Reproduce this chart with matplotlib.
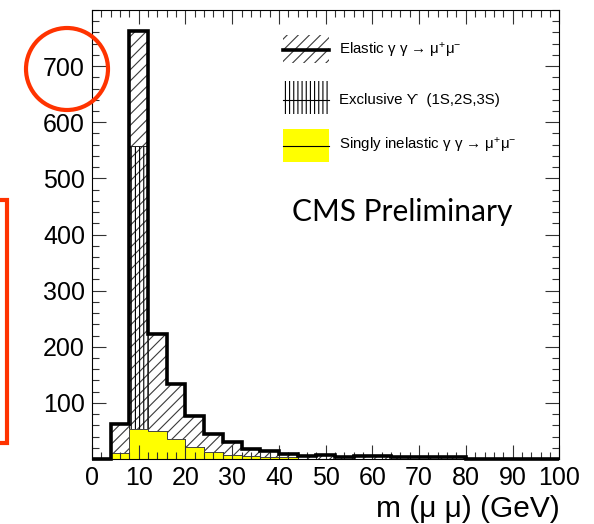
import numpy as np
import matplotlib
matplotlib.use("Agg")
import matplotlib.pyplot as plt
from matplotlib.patches import Rectangle, Ellipse
from matplotlib.lines import Line2D
from matplotlib.ticker import MultipleLocator, FixedLocator

# ---------------- data ----------------
bin_edges = np.arange(0, 104, 4)
elastic = [0, 51, 204, 173, 99, 56, 32, 23, 13, 10, 6, 6, 7, 4,
           5, 5, 4, 4, 3, 4, 0, 0, 0, 0, 0]
upsilon = [0, 0, 504, 0, 0, 0, 0, 0, 0, 0, 0, 0, 0, 0,
           0, 0, 0, 0, 0, 0, 0, 0, 0, 0, 0]
inelastic = [0, 11, 54, 50, 35, 21, 12, 8, 5, 4, 3, 0, 0, 0,
             0, 0, 0, 0, 0, 0, 0, 0, 0, 0, 0]
x_ticks = [0, 10, 20, 30, 40, 50, 60, 70, 80, 90, 100]
y_ticks = [100, 200, 300, 400, 500, 600, 700]
legend_labels = [r"Elastic γ γ → μ$^{+}$μ$^{-}$",
                 "Exclusive ϒ  (1S,2S,3S)",
                 r"Singly inelastic γ γ → μ$^{+}$μ$^{-}$"]

inel = np.array(inelastic, float)
ups_cum = inel + np.array(upsilon, float)
total = ups_cum + np.array(elastic, float)

# ---------------- figure ----------------
plt.rcParams['font.family'] = ['Liberation Sans', 'DejaVu Sans']
plt.rcParams['mathtext.fontset'] = 'custom'
plt.rcParams['mathtext.rm'] = 'Liberation Sans'
plt.rcParams['mathtext.it'] = 'Liberation Sans'
plt.rcParams['mathtext.default'] = 'rm'
plt.rcParams['hatch.linewidth'] = 0.8
W, H = 594, 524
fig = plt.figure(figsize=(W / 100, H / 100), dpi=100)
L, R, T, B = 92, 559.3, 10, 459
ax = fig.add_axes([L / W, 1 - B / H, (R - L) / W, (B - T) / H])


def fpx(x, y):
    return x / W, 1 - y / H


# total (elastic on top) - diagonal hatch
p = ax.stairs(total, bin_edges, baseline=0, fill=True, hatch='///')
p.set_facecolor('none'); p.set_edgecolor('#3a3a3a'); p.set_linewidth(0)
# upsilon cumulative - vertical hatch
p = ax.stairs(ups_cum, bin_edges, baseline=0, fill=True, hatch='||||')
p.set_facecolor('none'); p.set_edgecolor('black'); p.set_linewidth(0)
ax.stairs(ups_cum, bin_edges, baseline=0, color='#222222', lw=0.7)
# inelastic yellow
p = ax.stairs(inel, bin_edges, baseline=0, fill=True)
p.set_facecolor('#ffff00'); p.set_edgecolor('none')
ax.stairs(inel, bin_edges, baseline=0, color='#444444', lw=0.7)
# thick outline
ax.stairs(total, bin_edges, baseline=0, color='black', lw=2.6, clip_on=False, zorder=5)

ax.set_xlim(0, 100)
ax.set_ylim(0, 800)
ax.xaxis.set_major_locator(FixedLocator(x_ticks))
ax.xaxis.set_minor_locator(MultipleLocator(2))
ax.yaxis.set_major_locator(FixedLocator(y_ticks))
ax.yaxis.set_minor_locator(MultipleLocator(20))
ax.tick_params(which='both', direction='in', top=True, right=True,
               color='#333333', width=0.8)
ax.tick_params(which='major', length=10, labelsize=18, pad=5)
ax.tick_params(which='minor', length=5)
for s in ax.spines.values():
    s.set_linewidth(0.8)

ax.set_xlabel('m (μ μ) (GeV)', fontsize=21.5, loc='right', labelpad=3.5)

# CMS Preliminary
fig.text(*fpx(292, 221), 'CMS Preliminary', fontsize=21.5, family='Lato',
         ha='left', va='baseline')

# legend (manual)
lx0, lx1 = 283, 329
tx = 339
# elastic
r = Rectangle(fpx(lx0, 63), (lx1 - lx0) / W, 28 / H, transform=fig.transFigure,
              facecolor='none', edgecolor='#3a3a3a', lw=0, hatch='///')
fig.patches.append(r)
fig.add_artist(Line2D([lx0 / W, lx1 / W], [1 - 50 / H] * 2, color='black', lw=2.6,
                      transform=fig.transFigure))
# exclusive
r = Rectangle(fpx(lx0, 114), (lx1 - lx0) / W, 33 / H, transform=fig.transFigure,
              facecolor='none', edgecolor='black', lw=0, hatch='||||')
fig.patches.append(r)
fig.add_artist(Line2D([lx0 / W, lx1 / W], [1 - 100 / H] * 2, color='black', lw=0.8,
                      transform=fig.transFigure))
# inelastic
r = Rectangle(fpx(lx0, 162), (lx1 - lx0) / W, 33 / H, transform=fig.transFigure,
              facecolor='#ffff00', edgecolor='none', lw=0)
fig.patches.append(r)
fig.add_artist(Line2D([lx0 / W, lx1 / W], [1 - 145.5 / H] * 2, color='black', lw=0.8,
                      transform=fig.transFigure))
for lab, yy in zip(legend_labels, [50, 100, 145.5]):
    fig.text(*fpx(tx, yy), lab, fontsize=10.8, ha='left', va='center')

# red annotations
red = '#ff3300'
fig.patches.append(Ellipse(fpx(67, 69), 82 / W, 82 / H, transform=fig.transFigure,
                           facecolor='none', edgecolor=red, lw=3))
fig.patches.append(Rectangle(fpx(-40, 443), 46.5 / W, (443 - 199.5) / H,
                             transform=fig.transFigure, facecolor='none',
                             edgecolor=red, lw=3))

fig.savefig('out.png', dpi=100)
